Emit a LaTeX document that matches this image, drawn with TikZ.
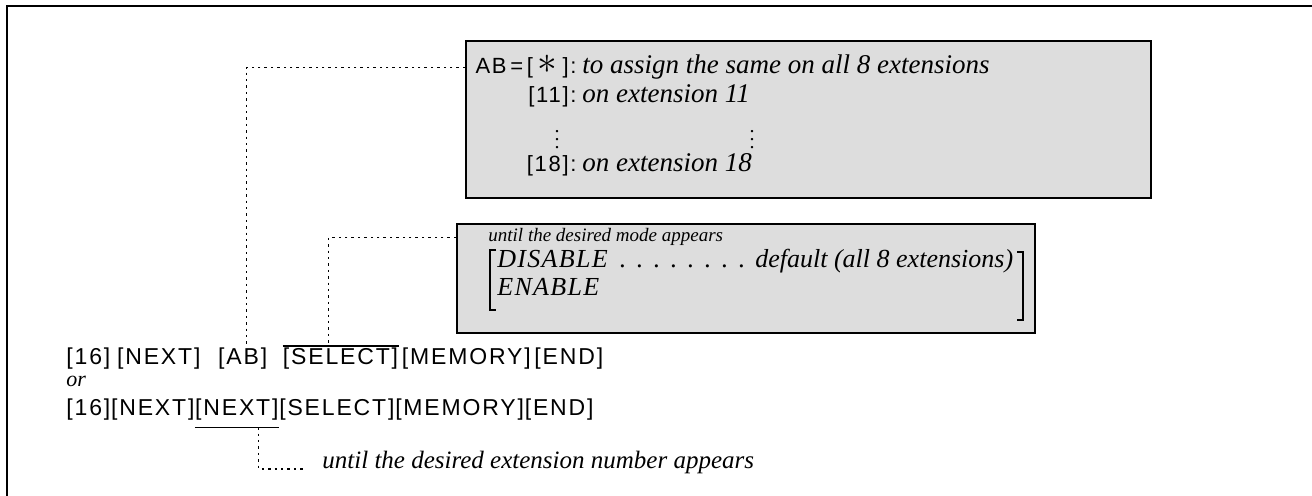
\documentclass[tikz,border=0pt]{standalone}
\usepackage{graphicx}
\usepackage{fontspec}
\setmainfont{Liberation Serif}
\setsansfont[LetterSpace=8]{Liberation Sans}
\newfontfamily\capsfont[LetterSpace=5]{Liberation Serif}
\usetikzlibrary{positioning}

\newcommand{\keysize}{\fontsize{11.5}{13}\selectfont}
\newcommand{\boxkeysize}{\fontsize{11}{13}\selectfont}

\begin{document}
\begin{tikzpicture}[
    x=0.5pt, y=-0.5pt,
    % 样式定义
    outer/.style={line width=1pt},
    panel/.style={rectangle, draw=black, line width=0.8pt, fill=gray!27, inner sep=0pt},
    keycap/.style={inner sep=0pt, anchor=base west, font=\sffamily\keysize},
    boxkey/.style={inner sep=0pt, anchor=base east, font=\sffamily\boxkeysize},
    bignote/.style={inner sep=0pt, anchor=base west, font=\itshape\fontsize{13.5}{15}\selectfont},
    note/.style={inner sep=0pt, anchor=base west, font=\itshape\fontsize{12.5}{14}\selectfont},
    smallnote/.style={inner sep=0pt, anchor=base west, font=\itshape\fontsize{9.5}{11}\selectfont},
    midnote/.style={inner sep=0pt, anchor=base west, font=\itshape\fontsize{13}{15}\selectfont},
    capnote/.style={inner sep=0pt, anchor=base west, font=\capsfont\itshape\fontsize{13}{15}\selectfont},
    vdot/.style={inner sep=0pt, anchor=base},
    guide/.style={line width=0.6pt, dash pattern=on 1.2pt off 2pt},
    rule/.style={line width=0.6pt}
]
    \useasboundingbox (0,0) rectangle (1312,496);

    % --- 外框 ---
    \draw[outer] (1312,6) -- (7,6) -- (7,496);

    % --- 上方说明框 ---
    \node (assign) [panel, minimum width=342.5pt, minimum height=78.5pt] at (808.5,119.5) {};
    \node (asg) [boxkey] at (577,74) {AB\,=\,[\hspace{2.5pt}\scalebox{1.8}{$\ast$}\hspace{2.5pt}]:};
    \node (asgtxt) [bignote, base right=2.5pt of asg] {to assign the same on all 8 extensions};
    \node (e11) [boxkey] at ([yshift=-14.5pt]asg.base east) {[11]:};
    \node (e11txt) [bignote, base right=2.5pt of e11] {on extension 11};
    \node (e18) [boxkey] at ([yshift=-34.5pt]e11.base east) {[18]:};
    \node (e18txt) [bignote, base right=2.5pt of e18] {on extension 18};
    \node (vd1) [vdot] at (557,149) {$\vdots$};
    \node (vd2) [vdot] at (752,149) {$\vdots$};

    % --- 模式说明框 ---
    \node (modebox) [panel, minimum width=289pt, minimum height=54.5pt] at (746,278.5) {};
    \node (mode) [smallnote] at (488,242) {until the desired mode appears};
    \node (dis) [capnote] at (497,268) {DISABLE};
    \node (lead) [midnote, base right=3pt of dis] {\hbox to 68pt{\leaders\hbox to 8.5pt{\hss.\hss}\hfill}};
    \node (dflt) [midnote, base right=2pt of lead] {default (all 8 extensions)};
    \node (ena) [capnote] at ([yshift=-14pt]dis.base west) {ENABLE};
    \draw[line width=0.7pt] (496,250) -- (490,250) -- (490,310) -- (496,310);
    \draw[line width=0.7pt] (1017,252) -- (1023,252) -- (1023,320) -- (1017,320);

    % --- 按键序列 ---
    \node (r16) [keycap] at (66,365) {[16]};
    \node (rnext) [keycap, base right=3pt of r16] {[NEXT]};
    \node (rab) [keycap, base right=8.5pt of rnext] {[AB]};
    \node (rsel) [keycap, base right=7.5pt of rab] {[SELECT]};
    \node (rmem) [keycap, base right=1.5pt of rsel] {[MEMORY]};
    \node (rend) [keycap, base right=1.5pt of rmem] {[END]};

    \node (or) [note, font=\itshape\fontsize{11}{12}\selectfont] at (66,387) {or};

    \node (s16) [keycap] at (66,416) {[16]};
    \node (snext1) [keycap, base right=0pt of s16] {[NEXT]};
    \node (snext2) [keycap, base right=0pt of snext1] {[NEXT]};
    \node (ssel) [keycap, base right=0pt of snext2] {[SELECT]};
    \node (smem) [keycap, base right=0pt of ssel] {[MEMORY]};
    \node (send) [keycap, base right=0pt of smem] {[END]};

    \node (ext) [note, inner xsep=8.5pt] at (305,469) {until the desired extension number appears};

    % 上划线 / 下划线
    \draw[rule] ([yshift=1pt]rsel.north west) -- ([yshift=1pt]rsel.north east);
    \draw[rule] ([yshift=-3pt]snext2.south west) -- ([yshift=-3pt]snext2.south east);

    % --- 连线 ---
    \draw[guide] (assign.west |- asg) -| ([xshift=2pt, yshift=1.5pt]rab.north);
    \draw[guide] (modebox.west |- mode) -| ([xshift=-6pt, yshift=1pt]rsel.north);
    \draw[guide] ([xshift=11pt, yshift=-3pt]snext2.south) |- (ext.base west);

\end{tikzpicture}
\end{document}
